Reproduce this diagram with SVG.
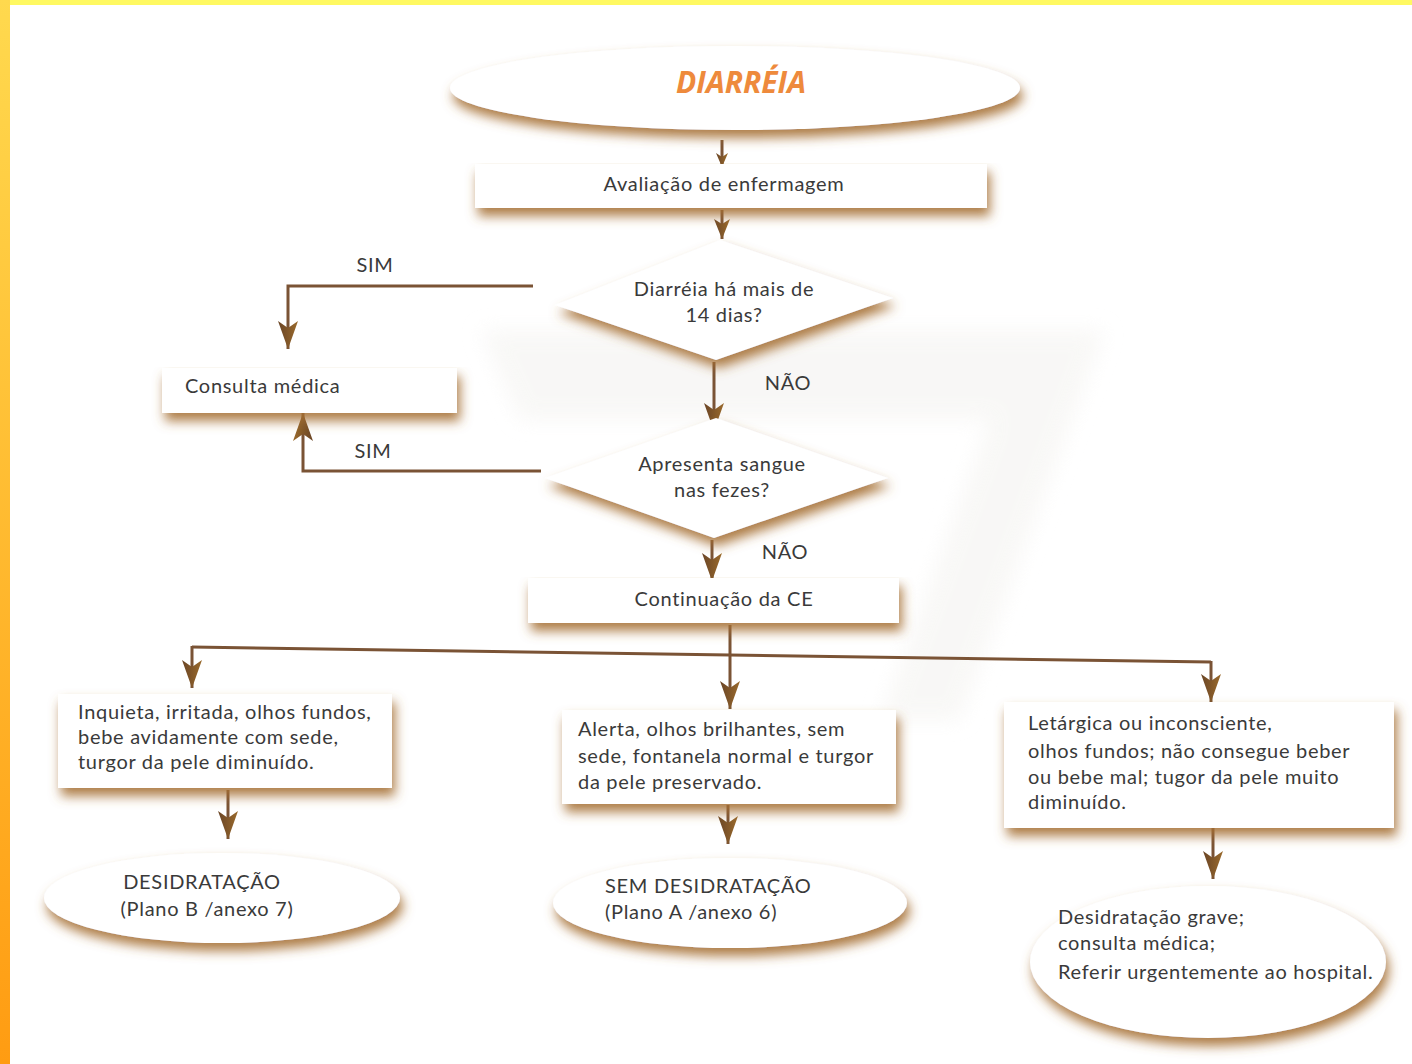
<svg xmlns="http://www.w3.org/2000/svg" width="1412" height="1064" viewBox="0 0 1412 1064">
  <defs>
    <linearGradient id="sideBar" x1="0" y1="0" x2="0" y2="1">
      <stop offset="0" stop-color="#ffd94e"/>
      <stop offset="1" stop-color="#ff9c12"/>
    </linearGradient>
    <linearGradient id="headFill" x1="0" y1="0" x2="0" y2="1">
      <stop offset="0" stop-color="#9a6a2c"/>
      <stop offset="1" stop-color="#6a4526"/>
    </linearGradient>
    <!-- soft tan shadow thrown below and to the right of each shape -->
    <filter id="shadow" x="-10%" y="-20%" width="125%" height="170%">
      <feGaussianBlur in="SourceAlpha" stdDeviation="6" result="b"/>
      <feOffset in="b" dx="3" dy="8" result="o"/>
      <feFlood flood-color="#a56f33" flood-opacity="0.9"/>
      <feComposite in2="o" operator="in" result="s"/>
      <feMerge>
        <feMergeNode in="s"/>
        <feMergeNode in="SourceGraphic"/>
      </feMerge>
    </filter>
    <filter id="haze" x="-20%" y="-20%" width="140%" height="140%">
      <feGaussianBlur stdDeviation="10"/>
    </filter>
    <marker id="arrow" markerUnits="userSpaceOnUse" markerWidth="32" markerHeight="24" viewBox="-1 -12 32 24" refX="28" refY="0" orient="auto">
      <path d="M0,-10 L28,0 L0,10 L7,0 Z" fill="url(#headFill)"/>
    </marker>
    <marker id="arrowMid" markerUnits="userSpaceOnUse" markerWidth="24" markerHeight="20" viewBox="-1 -10 24 20" refX="20" refY="0" orient="auto">
      <path d="M0,-8 L20,0 L0,8 L5,0 Z" fill="url(#headFill)"/>
    </marker>
    <marker id="arrowSmall" markerUnits="userSpaceOnUse" markerWidth="16" markerHeight="14" viewBox="-1 -7 16 14" refX="14" refY="0" orient="auto">
      <path d="M0,-6 L14,0 L0,6 L4,0 Z" fill="url(#headFill)"/>
    </marker>
    <style>
      .node { fill: #ffffff; filter: url(#shadow); }
      .txt { font-family: Lato, "Open Sans", "DejaVu Sans", sans-serif; font-size: 20px; letter-spacing: 0.7px; fill: #3a3a3a; }
      .mid { text-anchor: middle; }
      .title { font-family: "Open Sans", "Noto Sans", sans-serif; font-size: 30px; font-weight: bold; font-style: italic; fill: #ee8a3c; text-anchor: middle; }
      .wire { fill: none; stroke: #7a5335; stroke-width: 3; }
      .big { marker-end: url(#arrow); }
      .med { marker-end: url(#arrowMid); }
      .sml { marker-end: url(#arrowSmall); }
    </style>
  </defs>

  <!-- page and coloured edges -->
  <rect x="0" y="0" width="1412" height="1064" fill="#ffffff"/>
  <rect x="0" y="0" width="1412" height="5" fill="#fff962"/>
  <rect x="0" y="0" width="10" height="1064" fill="url(#sideBar)"/>

  <!-- faint background figure -->
  <path d="M480,330 L1105,330 L960,720 L880,720 L990,420 L520,420 Z" fill="#f6f5f3" opacity="0.7" filter="url(#haze)"/>

  <!-- connectors -->
  <g id="connectors">
    <path class="wire sml" d="M722,140 V167"/>
    <path class="wire med" d="M722,210 V239"/>
    <path class="wire big" d="M533,286 H288 V349"/>
    <path class="wire big" d="M714,362 V431"/>
    <path class="wire big" d="M541,471 H303 V413"/>
    <path class="wire big" d="M712,540 V581"/>
    <path class="wire big" d="M730,625 V709"/>
    <path class="wire" d="M192,647 L1211,662"/>
    <path class="wire big" d="M192,646 V688"/>
    <path class="wire big" d="M1211,661 V702"/>
    <path class="wire big" d="M228,790 V839"/>
    <path class="wire big" d="M728,805 V844"/>
    <path class="wire big" d="M1213,828 V879"/>
  </g>

  <!-- edge labels -->
  <g id="labels">
    <text class="txt mid" x="375" y="272">SIM</text>
    <text class="txt mid" x="373" y="458">SIM</text>
    <text class="txt mid" x="788" y="390">NÃO</text>
    <text class="txt mid" x="785" y="559">NÃO</text>
  </g>

  <g id="start">
    <ellipse class="node" cx="735" cy="88" rx="285" ry="42"/>
    <text class="title" x="741" y="93">DIARRÉIA</text>
  </g>

  <g id="avaliacao">
    <rect class="node" x="475" y="164" width="512" height="44"/>
    <text class="txt mid" x="724" y="191">Avaliação de enfermagem</text>
  </g>

  <g id="decisao14dias">
    <polygon class="node" points="720,240 893,298 716,360 555,305"/>
    <text class="txt mid" x="724" y="296">Diarréia há mais de</text>
    <text class="txt mid" x="724" y="322">14 dias?</text>
  </g>

  <g id="consulta">
    <rect class="node" x="162" y="368" width="295" height="45"/>
    <text class="txt" x="185" y="393">Consulta médica</text>
  </g>

  <g id="decisaoSangue">
    <polygon class="node" points="716,418 888,478 714,538 545,478"/>
    <text class="txt mid" x="722" y="471">Apresenta sangue</text>
    <text class="txt mid" x="722" y="497">nas fezes?</text>
  </g>

  <g id="continuacao">
    <rect class="node" x="528" y="578" width="371" height="45"/>
    <text class="txt mid" x="724" y="606">Continuação da CE</text>
  </g>

  <g id="sinaisB">
    <rect class="node" x="58" y="694" width="334" height="94"/>
    <text class="txt" x="78" y="719">Inquieta, irritada, olhos fundos,</text>
    <text class="txt" x="78" y="744">bebe avidamente com sede,</text>
    <text class="txt" x="78" y="769">turgor da pele diminuído.</text>
  </g>

  <g id="sinaisA">
    <rect class="node" x="562" y="710" width="334" height="94"/>
    <text class="txt" x="578" y="736">Alerta, olhos brilhantes, sem</text>
    <text class="txt" x="578" y="763">sede, fontanela normal e turgor</text>
    <text class="txt" x="578" y="789">da pele preservado.</text>
  </g>

  <g id="sinaisC">
    <rect class="node" x="1004" y="702" width="390" height="126"/>
    <text class="txt" x="1028" y="730">Letárgica ou inconsciente,</text>
    <text class="txt" x="1028" y="758">olhos fundos; não consegue beber</text>
    <text class="txt" x="1028" y="784">ou bebe mal; tugor da pele muito</text>
    <text class="txt" x="1028" y="809">diminuído.</text>
  </g>

  <g id="planoB">
    <ellipse class="node" cx="222" cy="898" rx="178" ry="45"/>
    <text class="txt mid" x="202" y="889">DESIDRATAÇÃO</text>
    <text class="txt mid" x="207" y="916">(Plano B /anexo 7)</text>
  </g>

  <g id="planoA">
    <ellipse class="node" cx="730" cy="903" rx="177" ry="45"/>
    <text class="txt" x="605" y="893">SEM DESIDRATAÇÃO</text>
    <text class="txt" x="605" y="919">(Plano A /anexo 6)</text>
  </g>

  <g id="grave">
    <ellipse class="node" cx="1208" cy="962" rx="178" ry="76"/>
    <text class="txt" x="1058" y="924">Desidratação grave;</text>
    <text class="txt" x="1058" y="950">consulta médica;</text>
    <text class="txt" x="1058" y="979">Referir urgentemente ao hospital.</text>
  </g>
</svg>
